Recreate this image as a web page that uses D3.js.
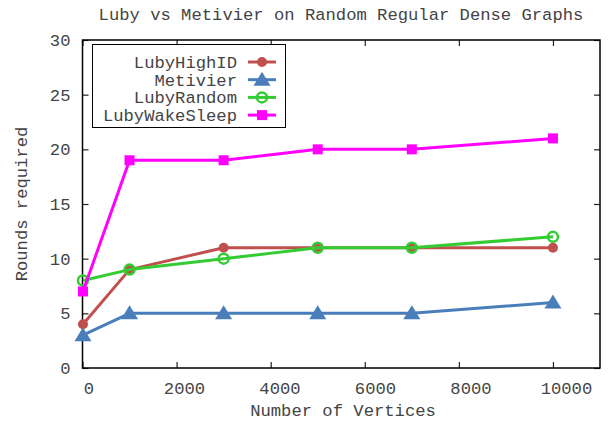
<!DOCTYPE html>
<html>
<head>
<meta charset="utf-8">
<script src="https://cdn.jsdelivr.net/npm/d3@7"></script>
<style>
  html, body { margin: 0; padding: 0; background: #fff; }
  svg text { font-family: "Liberation Mono", "DejaVu Sans Mono", monospace; fill: #444; }
</style>
</head>
<body>
<svg id="chart" width="612" height="422"></svg>
<script>
// Number of vertices in each test graph
const vertices = [10, 1000, 3000, 5000, 7000, 10000];

// Rounds needed by each algorithm
const lubyHighID    = [4, 9, 11, 11, 11, 11];
const metivier      = [3, 5, 5, 5, 5, 6];
const lubyRandom    = [8, 9, 10, 11, 11, 12];
const lubyWakeSleep = [7, 19, 19, 20, 20, 21];

const xTicks = [0, 2000, 4000, 6000, 8000, 10000];
const yTicks = [0, 5, 10, 15, 20, 25, 30];

const series = [
  { name: "LubyHighID",    values: lubyHighID,    color: "#c0504d", marker: "dot" },
  { name: "Metivier",      values: metivier,      color: "#4a7ebb", marker: "triangle" },
  { name: "LubyRandom",    values: lubyRandom,    color: "#33cc33", marker: "ring" },
  { name: "LubyWakeSleep", values: lubyWakeSleep, color: "#ff00ff", marker: "square" }
];

const svg = d3.select("#chart");
const plot = { left: 82.5, right: 600, top: 40, bottom: 368 };

const x = d3.scaleLinear().domain([0, 11000]).range([plot.left, plot.right]);
const y = d3.scaleLinear().domain([0, 30]).range([plot.bottom, plot.top]);

const fontSize = "17.2px";

// Title
svg.append("text")
  .attr("x", 341).attr("y", 20)
  .attr("text-anchor", "middle")
  .style("font-size", fontSize)
  .text("Luby vs Metivier on Random Regular Dense Graphs");

// Axes with inward ticks, mirrored on the opposite side
const tickLen = 6;

const xAxis = svg.append("g")
  .attr("transform", `translate(0,${plot.bottom})`)
  .call(d3.axisBottom(x).tickValues(xTicks).tickFormat(d3.format("d"))
    .tickSizeInner(-tickLen).tickSizeOuter(0).tickPadding(14));
xAxis.selectAll("text")
  .style("font-size", fontSize)
  .attr("dx", d => 6 + d * 0.0007);

svg.append("g")
  .attr("transform", `translate(0,${plot.top})`)
  .call(d3.axisTop(x).tickValues(xTicks).tickSizeInner(-tickLen).tickSizeOuter(0).tickFormat(""));

const yAxis = svg.append("g")
  .attr("transform", `translate(${plot.left},0)`)
  .call(d3.axisLeft(y).tickValues(yTicks).tickFormat(d3.format("d"))
    .tickSizeInner(-tickLen).tickSizeOuter(0).tickPadding(12));
yAxis.selectAll("text").style("font-size", fontSize);

svg.append("g")
  .attr("transform", `translate(${plot.right},0)`)
  .call(d3.axisRight(y).tickValues(yTicks).tickSizeInner(-tickLen).tickSizeOuter(0).tickFormat(""));

svg.selectAll(".domain").remove();
svg.selectAll(".tick line").attr("stroke", "#222").attr("stroke-width", 1.2);

// Plot frame
svg.append("rect")
  .attr("x", plot.left).attr("y", plot.top)
  .attr("width", plot.right - plot.left).attr("height", plot.bottom - plot.top)
  .attr("fill", "none").attr("stroke", "#000").attr("stroke-width", 1.5);

// Axis titles
svg.append("text")
  .attr("x", 343).attr("y", 416)
  .attr("text-anchor", "middle")
  .style("font-size", fontSize)
  .text("Number of Vertices");

svg.append("text")
  .attr("transform", `translate(27,${(plot.top + plot.bottom) / 2}) rotate(-90)`)
  .attr("text-anchor", "middle")
  .style("font-size", fontSize)
  .text("Rounds required");

// Marker drawing
function drawMarker(g, type, color, cx, cy) {
  if (type === "dot") {
    g.append("circle").attr("cx", cx).attr("cy", cy).attr("r", 5).attr("fill", color);
  } else if (type === "ring") {
    g.append("circle").attr("cx", cx).attr("cy", cy).attr("r", 5)
      .attr("fill", "none").attr("stroke", color).attr("stroke-width", 2.5);
  } else if (type === "square") {
    g.append("rect").attr("x", cx - 5).attr("y", cy - 5).attr("width", 10).attr("height", 10).attr("fill", color);
  } else if (type === "triangle") {
    g.append("path")
      .attr("d", `M${cx},${cy - 8}L${cx + 8.5},${cy + 6}L${cx - 8.5},${cy + 6}Z`)
      .attr("fill", color);
  }
}

const line = d3.line().x(d => x(d[0])).y(d => y(d[1]));

series.forEach(s => {
  const pts = vertices.map((v, i) => [v, s.values[i]]);
  const g = svg.append("g");
  g.append("path")
    .attr("d", line(pts))
    .attr("fill", "none")
    .attr("stroke", s.color)
    .attr("stroke-width", 3)
    .attr("stroke-linejoin", "round");
  pts.forEach(p => drawMarker(g, s.marker, s.color, x(p[0]), y(p[1])));
});

// Legend
const legend = svg.append("g");
legend.append("rect")
  .attr("x", 92.5).attr("y", 44.5)
  .attr("width", 193).attr("height", 83)
  .attr("fill", "#fff").attr("stroke", "#000").attr("stroke-width", 1);

series.forEach((s, i) => {
  const ly = 62 + i * 17.7;
  legend.append("text")
    .attr("x", 237).attr("y", ly)
    .attr("dy", "0.35em")
    .attr("text-anchor", "end")
    .style("font-size", fontSize)
    .text(s.name);
  legend.append("line")
    .attr("x1", 248).attr("x2", 276)
    .attr("y1", ly).attr("y2", ly)
    .attr("stroke", s.color).attr("stroke-width", 3);
  drawMarker(legend, s.marker, s.color, 262, ly);
});
</script>
</body>
</html>
